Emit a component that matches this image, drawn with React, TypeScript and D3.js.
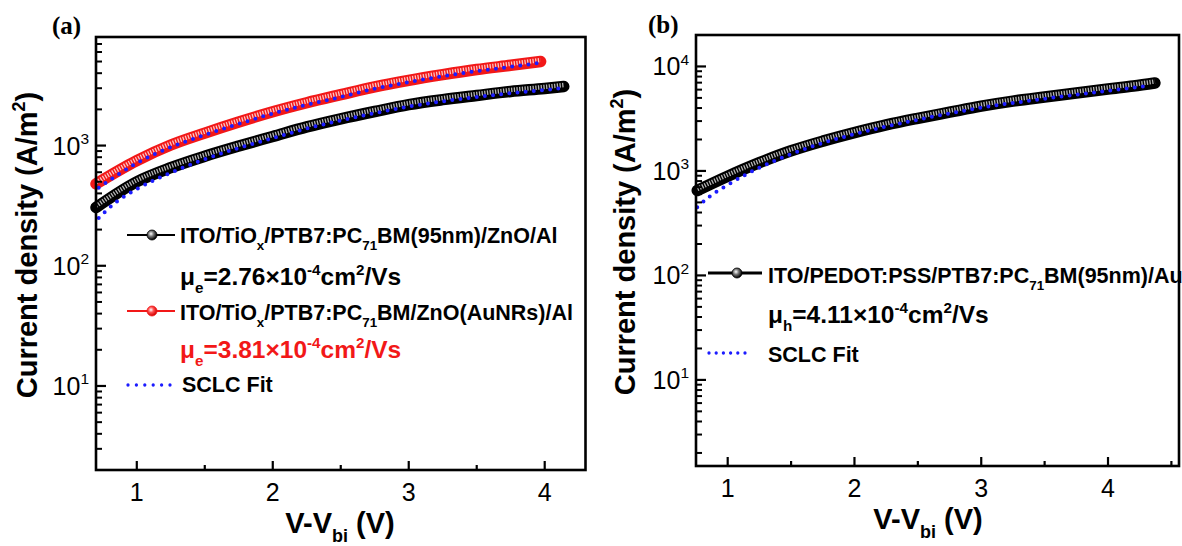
import React from 'react';
import * as d3 from 'd3';

const W = 1182;
const H = 546;

// ---------- Panel (a) data ----------
const aBlackV = [0.70, 1.00, 1.25, 1.50, 1.75, 2.00, 2.25, 2.50, 2.75, 3.00, 3.25, 3.50, 3.75, 4.00, 4.14];
const aBlackJ = [305, 500, 655, 815, 990, 1190, 1430, 1670, 1920, 2190, 2410, 2610, 2818, 2985, 3100];
const aRedV = [0.70, 1.00, 1.25, 1.50, 1.75, 2.00, 2.25, 2.50, 2.75, 3.00, 3.25, 3.50, 3.75, 3.97];
const aRedJ = [480, 750, 1010, 1270, 1570, 1910, 2270, 2650, 3080, 3490, 3890, 4290, 4650, 5000];
const aFitBlackV = [0.72, 0.85, 1.00, 1.25, 1.50, 1.75, 2.00, 2.25, 2.50, 2.75, 3.00, 3.25, 3.50, 3.75, 4.00, 4.12];
const aFitBlackJ = [250, 340, 435, 595, 770, 955, 1150, 1385, 1620, 1860, 2110, 2330, 2530, 2730, 2900, 3000];
const aFitRedV = [0.72, 1.00, 1.25, 1.50, 1.75, 2.00, 2.25, 2.50, 2.75, 3.00, 3.25, 3.50, 3.75, 3.97];
const aFitRedJ = [445, 715, 970, 1225, 1515, 1845, 2185, 2535, 2970, 3370, 3770, 4160, 4520, 4880];

// ---------- Panel (b) data ----------
const bV = [0.76, 1.00, 1.25, 1.50, 1.75, 2.00, 2.25, 2.50, 2.75, 3.00, 3.25, 3.50, 3.75, 4.00, 4.20, 4.37];
const bJ = [650, 890, 1200, 1560, 1930, 2330, 2760, 3190, 3650, 4170, 4660, 5100, 5570, 6090, 6500, 6950];
const bFitV = [0.76, 0.85, 1.00, 1.25, 1.50, 1.75, 2.00, 2.50, 3.00, 3.50, 4.00, 4.33];
const bFitJ = [450, 560, 735, 1075, 1450, 1850, 2250, 3090, 4030, 4910, 5850, 6550];

// ---------- axes ----------
const xTicks = [1, 2, 3, 4];
const aXMinor = [1.5, 2.5, 3.5];
const bXMinor = [1.5, 2.5, 3.5, 4.5];
const aYExps = [1, 2, 3];
const bYExps = [1, 2, 3, 4];

const FONT = "'Liberation Sans', Arial, Helvetica, sans-serif";
const SERIF = "'Liberation Serif', 'Times New Roman', serif";
const RED = '#f21818';
const BLUE = '#1c1cff';

type Part = { t: string; sub?: boolean; sup?: boolean };

function Rich(props: {
  x: number; y: number; parts: Part[]; size: number; fill?: string; weight?: string;
  anchor?: string; transform?: string;
}) {
  const { x, y, parts, size, fill = '#000', weight = 'bold', anchor = 'start', transform } = props;
  let cur = 0;
  return (
    <text x={x} y={y} fontFamily={FONT} fontSize={size} fontWeight={weight} fill={fill}
      textAnchor={anchor} transform={transform}>
      {parts.map((p, i) => {
        const target = p.sub ? size * 0.32 : p.sup ? -size * 0.42 : 0;
        const dy = target - cur;
        cur = target;
        return (
          <tspan key={i} dy={dy} fontSize={p.sub || p.sup ? size * 0.62 : size}>{p.t}</tspan>
        );
      })}
    </text>
  );
}

type Series = { v: number[]; j: number[] };

function Panel(props: {
  left: number; right: number; top: number; bottom: number;
  xDomain: [number, number]; yDomain: [number, number];
  xMinor: number[]; yExps: number[];
  data: { s: Series; color: string; hi: string }[];
  fits: Series[];
  yLabelX: number; yLabelY: number; xLabelX: number;
}) {
  const { left, right, top, bottom, xDomain, yDomain, xMinor, yExps, data, fits } = props;
  const x = d3.scaleLinear().domain(xDomain).range([left, right]);
  const y = d3.scaleLog().domain(yDomain).range([bottom, top]);

  const minorY: number[] = [];
  const lo = Math.floor(Math.log10(yDomain[0]));
  const hi = Math.ceil(Math.log10(yDomain[1]));
  for (let e = lo; e <= hi; e++) {
    for (let m = 2; m <= 9; m++) {
      const v = m * Math.pow(10, e);
      if (v >= yDomain[0] && v <= yDomain[1]) minorY.push(v);
    }
  }

  const line = (s: Series) =>
    d3.line<number>()
      .x((_, i) => x(s.v[i]))
      .y((_, i) => y(s.j[i]))
      .curve(d3.curveMonotoneX)(s.v) || '';

  return (
    <g>
      {data.map((d, i) => (
        <g key={'d' + i}>
          <path d={line(d.s)} fill="none" stroke={d.color} strokeWidth={11.5} strokeLinecap="round" />
          <path d={line(d.s)} fill="none" stroke={d.hi} strokeWidth={4.5} strokeDasharray="1.3 1.4"
            transform="translate(0,-1.5)" opacity={0.9} />
        </g>
      ))}
      {fits.map((f, i) => (
        <path key={'f' + i} d={line(f)} fill="none" stroke={BLUE} strokeWidth={4}
          strokeDasharray="0 8.2" strokeLinecap="round" />
      ))}
      <rect x={left} y={top} width={right - left} height={bottom - top} fill="none"
        stroke="#000" strokeWidth={2.6} />
      {xTicks.map((t) => (
        <g key={'xt' + t}>
          <line x1={x(t)} x2={x(t)} y1={bottom} y2={bottom - 9} stroke="#000" strokeWidth={2.2} />
          <text x={x(t)} y={bottom + 31} textAnchor="middle" fontFamily={FONT} fontSize={25}>{t}</text>
        </g>
      ))}
      {xMinor.map((t) => (
        <line key={'xm' + t} x1={x(t)} x2={x(t)} y1={bottom} y2={bottom - 5} stroke="#000" strokeWidth={2.2} />
      ))}
      {yExps.map((e) => (
        <g key={'ye' + e}>
          <line x1={left} x2={left + 10} y1={y(Math.pow(10, e))} y2={y(Math.pow(10, e))} stroke="#000" strokeWidth={2.2} />
          <Rich x={left - 7} y={y(Math.pow(10, e)) + 9} anchor="end" size={25} weight="normal"
            parts={[{ t: '10' }, { t: String(e), sup: true }]} />
        </g>
      ))}
      {minorY.map((v, i) => (
        <line key={'ym' + i} x1={left} x2={left + 6} y1={y(v)} y2={y(v)} stroke="#000" strokeWidth={2} />
      ))}
      <Rich x={props.xLabelX} y={bottom + 63} anchor="middle" size={29}
        parts={[{ t: 'V-V' }, { t: 'bi', sub: true }, { t: ' (V)' }]} />
      <Rich x={0} y={0} anchor="middle" size={29}
        transform={`translate(${props.yLabelX},${props.yLabelY}) rotate(-90)`}
        parts={[{ t: 'Current density (A/m' }, { t: '2', sup: true }, { t: ')' }]} />
    </g>
  );
}

function LegendMarker(props: { x: number; y: number; grad: string; lineColor: string; x1: number; x2: number; w: number }) {
  const { x, y, grad, lineColor, x1, x2, w } = props;
  return (
    <g>
      <line x1={x1} x2={x2} y1={y} y2={y} stroke={lineColor} strokeWidth={w} />
      <circle cx={x} cy={y} r={5} fill={`url(#${grad})`} stroke={lineColor} strokeWidth={0.8} />
    </g>
  );
}

export default function App() {
  const aLeft = 96, aRight = 585.5, aTop = 37, aBottom = 470;
  const bLeft = 696, bRight = 1179, bTop = 35, bBottom = 466;
  return (
    <svg width={W} height={H} viewBox={`0 0 ${W} ${H}`}
      style={{ position: 'absolute', left: 0, top: 0, background: '#fff' }}>
      <defs>
        <radialGradient id="gBlack" cx="40%" cy="38%" r="60%">
          <stop offset="0%" stopColor="#ffffff" />
          <stop offset="45%" stopColor="#777" />
          <stop offset="100%" stopColor="#000" />
        </radialGradient>
        <radialGradient id="gRed" cx="40%" cy="38%" r="60%">
          <stop offset="0%" stopColor="#ffffff" />
          <stop offset="45%" stopColor="#ff5050" />
          <stop offset="100%" stopColor="#d00000" />
        </radialGradient>
      </defs>
      <rect x={0} y={0} width={W} height={H} fill="#fff" />

      {/* Panel (a) */}
      <text x={52} y={34} fontFamily={SERIF} fontWeight="bold" fontSize={25}>(a)</text>
      <Panel left={aLeft} right={aRight} top={aTop} bottom={aBottom}
        xDomain={[0.7, 4.3]} yDomain={[2, 8000]} xMinor={aXMinor} yExps={aYExps}
        data={[
          { s: { v: aBlackV, j: aBlackJ }, color: '#000', hi: '#c8c8c8' },
          { s: { v: aRedV, j: aRedJ }, color: RED, hi: '#ffd6d6' },
        ]}
        fits={[{ v: aFitBlackV, j: aFitBlackJ }, { v: aFitRedV, j: aFitRedJ }]}
        yLabelX={37} yLabelY={245} xLabelX={340} />
      <LegendMarker x={152} y={235} grad="gBlack" lineColor="#000" x1={127} x2={175} w={2} />
      <Rich x={180} y={243} size={21.5}
        parts={[{ t: 'ITO/TiO' }, { t: 'x', sub: true }, { t: '/PTB7:PC' }, { t: '71', sub: true }, { t: 'BM(95nm)/ZnO/Al' }]} />
      <Rich x={180} y={285} size={24.5}
        parts={[{ t: 'μ' }, { t: 'e', sub: true }, { t: '=2.76×10' }, { t: '-4', sup: true }, { t: 'cm' }, { t: '2', sup: true }, { t: '/Vs' }]} />
      <LegendMarker x={152} y={311} grad="gRed" lineColor={RED} x1={127} x2={175} w={2} />
      <Rich x={180} y={320} size={21.5}
        parts={[{ t: 'ITO/TiO' }, { t: 'x', sub: true }, { t: '/PTB7:PC' }, { t: '71', sub: true }, { t: 'BM/ZnO(AuNRs)/Al' }]} />
      <Rich x={180} y={358} size={24.5} fill={RED}
        parts={[{ t: 'μ' }, { t: 'e', sub: true }, { t: '=3.81×10' }, { t: '-4', sup: true }, { t: 'cm' }, { t: '2', sup: true }, { t: '/Vs' }]} />
      <line x1={128} x2={170} y1={385} y2={385} stroke={BLUE} strokeWidth={3.3} strokeDasharray="0 8.4" strokeLinecap="round" />
      <Rich x={182} y={392} size={21.5} parts={[{ t: 'SCLC Fit' }]} />

      {/* Panel (b) */}
      <text x={648} y={33} fontFamily={SERIF} fontWeight="bold" fontSize={25}>(b)</text>
      <Panel left={bLeft} right={bRight} top={bTop} bottom={bBottom}
        xDomain={[0.75, 4.56]} yDomain={[1.5, 20000]} xMinor={bXMinor} yExps={bYExps}
        data={[{ s: { v: bV, j: bJ }, color: '#000', hi: '#c8c8c8' }]}
        fits={[{ v: bFitV, j: bFitJ }]}
        yLabelX={635} yLabelY={242} xLabelX={928} />
      <LegendMarker x={737} y={273} grad="gBlack" lineColor="#000" x1={708} x2={762} w={3} />
      <Rich x={768} y={283} size={21.5}
        parts={[{ t: 'ITO/PEDOT:PSS/PTB7:PC' }, { t: '71', sub: true }, { t: 'BM(95nm)/Au' }]} />
      <Rich x={768} y={323} size={24.5}
        parts={[{ t: 'μ' }, { t: 'h', sub: true }, { t: '=4.11×10' }, { t: '-4', sup: true }, { t: 'cm' }, { t: '2', sup: true }, { t: '/Vs' }]} />
      <line x1={709} x2={752} y1={353} y2={353} stroke={BLUE} strokeWidth={3.3} strokeDasharray="0 7.2" strokeLinecap="round" />
      <Rich x={768} y={362} size={21.5} parts={[{ t: 'SCLC Fit' }]} />
    </svg>
  );
}
